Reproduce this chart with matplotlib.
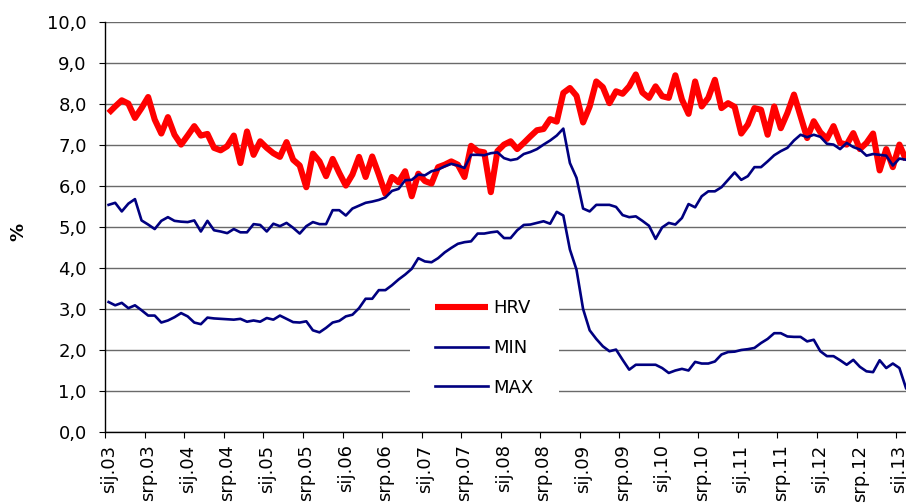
import matplotlib
matplotlib.use('Agg')
import matplotlib.pyplot as plt
import numpy as np

# Monthly data, Jan 2003 - Feb 2013
hrv = [7.78, 7.94, 8.09, 8.01, 7.66, 7.90, 8.17, 7.62, 7.28, 7.68, 7.25, 7.01,
       7.23, 7.46, 7.23, 7.27, 6.93, 6.87, 6.97, 7.23, 6.56, 7.33, 6.76, 7.09,
       6.93, 6.80, 6.71, 7.07, 6.64, 6.50, 5.97, 6.79, 6.60, 6.24, 6.66, 6.32,
       6.01, 6.28, 6.71, 6.22, 6.72, 6.28, 5.81, 6.22, 6.09, 6.36, 5.75, 6.30,
       6.12, 6.06, 6.46, 6.52, 6.60, 6.52, 6.22, 6.98, 6.85, 6.82, 5.85, 6.85,
       7.01, 7.09, 6.90, 7.05, 7.21, 7.36, 7.39, 7.63, 7.57, 8.27, 8.39, 8.20,
       7.55, 7.94, 8.55, 8.41, 8.02, 8.31, 8.25, 8.43, 8.72, 8.28, 8.15, 8.43,
       8.19, 8.15, 8.70, 8.11, 7.76, 8.55, 7.94, 8.15, 8.59, 7.90, 8.02, 7.93,
       7.28, 7.50, 7.90, 7.86, 7.25, 7.94, 7.41, 7.78, 8.23, 7.70, 7.17, 7.58,
       7.31, 7.15, 7.46, 7.05, 7.01, 7.29, 6.90, 7.05, 7.28, 6.38, 6.90, 6.46,
       7.01, 6.64]

max_vals = [5.54, 5.59, 5.38, 5.57, 5.68, 5.16, 5.06, 4.95, 5.15, 5.24, 5.15, 5.13,
            5.12, 5.16, 4.89, 5.15, 4.92, 4.89, 4.85, 4.95, 4.87, 4.87, 5.07, 5.05,
            4.89, 5.08, 5.02, 5.10, 4.98, 4.84, 5.02, 5.12, 5.07, 5.07, 5.41, 5.41,
            5.28, 5.45, 5.52, 5.59, 5.62, 5.66, 5.72, 5.88, 5.93, 6.14, 6.15, 6.28,
            6.26, 6.36, 6.40, 6.48, 6.54, 6.50, 6.44, 6.76, 6.76, 6.75, 6.80, 6.82,
            6.68, 6.63, 6.66, 6.78, 6.83, 6.90, 7.01, 7.11, 7.23, 7.40, 6.56, 6.20,
            5.45, 5.38, 5.54, 5.54, 5.54, 5.49, 5.29, 5.24, 5.26, 5.15, 5.03, 4.71,
            4.99, 5.10, 5.06, 5.22, 5.56, 5.48, 5.75, 5.87, 5.87, 5.97, 6.15, 6.33,
            6.15, 6.24, 6.46, 6.46, 6.60, 6.75, 6.85, 6.93, 7.11, 7.25, 7.19, 7.25,
            7.20, 7.03, 7.01, 6.90, 7.05, 6.95, 6.89, 6.74, 6.78, 6.76, 6.74, 6.50,
            6.67, 6.64]

min_vals = [3.17, 3.09, 3.15, 3.02, 3.09, 2.97, 2.84, 2.84, 2.67, 2.72, 2.80, 2.90,
            2.82, 2.67, 2.63, 2.79, 2.77, 2.76, 2.75, 2.74, 2.76, 2.69, 2.72, 2.69,
            2.78, 2.74, 2.84, 2.76, 2.68, 2.67, 2.70, 2.48, 2.43, 2.54, 2.67, 2.71,
            2.82, 2.86, 3.02, 3.25, 3.25, 3.46, 3.46, 3.58, 3.72, 3.84, 3.98, 4.24,
            4.16, 4.14, 4.24, 4.38, 4.49, 4.59, 4.63, 4.65, 4.84, 4.84, 4.87, 4.89,
            4.73, 4.73, 4.92, 5.05, 5.06, 5.10, 5.14, 5.08, 5.37, 5.28, 4.45, 3.96,
            3.00, 2.48, 2.27, 2.09, 1.97, 2.01, 1.76, 1.52, 1.64, 1.64, 1.64, 1.64,
            1.56, 1.44, 1.50, 1.54, 1.50, 1.71, 1.67, 1.67, 1.72, 1.89, 1.95, 1.96,
            2.00, 2.02, 2.05, 2.17, 2.27, 2.41, 2.41, 2.33, 2.32, 2.32, 2.21, 2.25,
            1.97, 1.85, 1.85, 1.75, 1.64, 1.76, 1.59, 1.48, 1.46, 1.75, 1.56, 1.67,
            1.56, 1.07]

tick_labels = ['sij.03', 'srp.03', 'sij.04', 'srp.04', 'sij.05', 'srp.05',
               'sij.06', 'srp.06', 'sij.07', 'srp.07', 'sij.08', 'srp.08',
               'sij.09', 'srp.09', 'sij.10', 'srp.10', 'sij.11', 'srp.11',
               'sij.12', 'srp.12', 'sij.13']
y_ticks = [0, 1, 2, 3, 4, 5, 6, 7, 8, 9, 10]

plt.rcParams['font.family'] = ['DejaVu Sans']
FS = 13

fig = plt.figure(figsize=(9.06, 5.04), dpi=100)
ax = fig.add_axes([105.3 / 906, 72 / 504, 804 / 906, 410 / 504])

n = len(hrv)
x = np.arange(n) + 0.5
ax.plot(x, hrv, color='#FF0000', lw=4.4, label='HRV', solid_joinstyle='round',
        solid_capstyle='butt', zorder=3)
ax.plot(x, min_vals, color='#000080', lw=1.9, label='MIN', zorder=4)
ax.plot(x, max_vals, color='#000080', lw=1.9, label='MAX', zorder=4)

ax.set_xlim(0, 122)
ax.set_ylim(0, 10)

ax.set_yticks(y_ticks)
ax.set_yticklabels([f"{v:.1f}".replace('.', ',') for v in y_ticks], fontsize=FS)
ax.tick_params(axis='y', direction='out', length=4.3, width=0.8, pad=9, colors='black')

label_pos = [6 * k + 0.5 for k in range(len(tick_labels))]
ax.set_xticks(label_pos)
ax.set_xticklabels(tick_labels, rotation=90, fontsize=FS)
ax.tick_params(axis='x', which='major', length=0, pad=9)
ax.set_xticks([6 * k for k in range(len(tick_labels))], minor=True)
ax.tick_params(axis='x', which='minor', direction='out', length=4.3, width=0.8)

ax.yaxis.grid(True, color='#6a6a6a', lw=1.0)
ax.set_axisbelow(True)
for s in ['top', 'right']:
    ax.spines[s].set_visible(False)
for s in ['left', 'bottom']:
    ax.spines[s].set_color('black')
    ax.spines[s].set_linewidth(1.0)
    ax.spines[s].set_zorder(2.5)

leg = ax.legend(loc='upper left', bbox_to_anchor=(401 / 906, 1 - 265 / 504),
                bbox_transform=fig.transFigure, frameon=True, facecolor='white',
                edgecolor='none', framealpha=1, fancybox=False, fontsize=FS,
                handlelength=2.9, handletextpad=0.3, labelspacing=1.2, borderpad=1.4)
leg.set_zorder(2.4)

fig.text(18 / 906, 1 - 232 / 504, '%', rotation=90, fontsize=FS, fontweight='bold',
         ha='center', va='center')

fig.savefig('out.png', dpi=100)
